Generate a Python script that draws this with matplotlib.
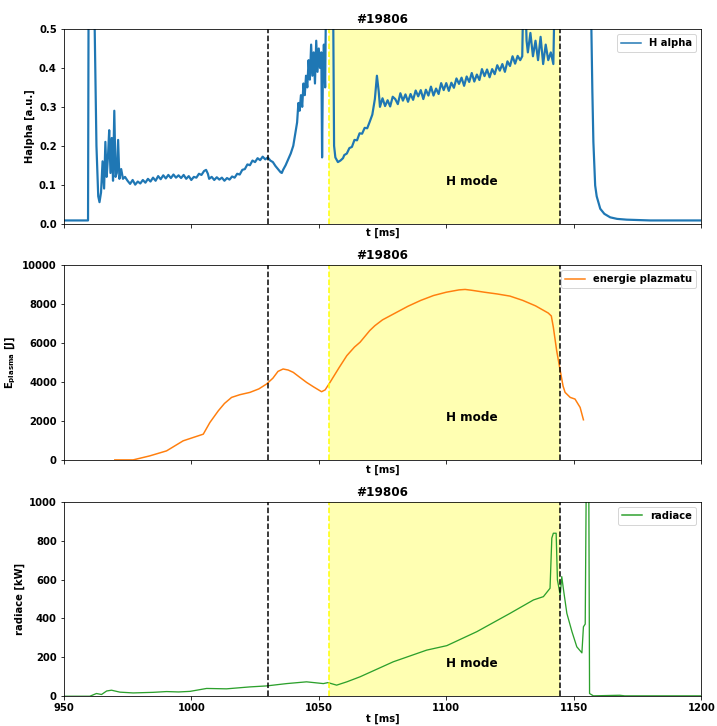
import matplotlib
matplotlib.use('Agg')
import matplotlib.pyplot as plt

SHOT = '#19806'
T_DASH = 1030
H_START = 1054
H_END = 1144.5

# H alpha [a.u.]
t_ha = [950, 959.5, 959.8, 960.2, 961.5, 962.0, 962.8, 963.5, 964.0, 964.6,
        965.2, 965.8, 966.3, 966.8, 967.3, 967.8, 968.3, 968.8, 969.3, 969.8,
        970.3, 970.8, 971.3, 971.8, 972.5, 973.2, 974,
        975, 976, 977, 978, 979, 980, 981, 982, 983, 984, 985, 986, 987, 988,
        989, 990, 991, 992, 993, 994, 995, 996, 997, 998, 999, 1000, 1001,
        1002, 1003, 1004, 1005, 1005.8, 1006.5, 1007, 1008, 1009, 1010, 1011,
        1012, 1013, 1014, 1015, 1016, 1017, 1018, 1019, 1020, 1021, 1022, 1023,
        1024, 1025, 1026, 1027, 1028, 1029, 1030, 1031, 1032, 1033, 1034, 1035,
        1035.5, 1036, 1037, 1038, 1039, 1040, 1041, 1041.5, 1042, 1042.5, 1043,
        1043.5, 1044, 1044.5, 1045, 1045.5, 1046, 1046.5, 1047, 1047.5, 1048,
        1048.5, 1049, 1049.5, 1050, 1050.5, 1051, 1051.3, 1051.6, 1052, 1052.5,
        1053, 1055.5, 1056, 1056.5, 1057.5, 1058.5, 1059.5,
        1060, 1061, 1062, 1063, 1064, 1065, 1066, 1067, 1068, 1069, 1070, 1071,
        1072, 1072.8, 1073.5, 1074,
        1075, 1076, 1077, 1078, 1079, 1080, 1081, 1082, 1083, 1084, 1085, 1086,
        1087, 1088, 1089, 1090, 1091, 1092, 1093, 1094, 1095, 1096, 1097, 1098,
        1099, 1100, 1101, 1102, 1103, 1104, 1105, 1106, 1107, 1108, 1109, 1110,
        1111, 1112, 1113, 1114, 1115, 1116, 1117, 1118, 1119, 1120, 1121, 1122,
        1123, 1124, 1125, 1126, 1127, 1128, 1129, 1129.8, 1130.5, 1131.5,
        1132, 1133, 1134, 1135, 1136, 1137, 1138, 1139, 1140, 1141, 1142,
        1142.8, 1156.8, 1157.3, 1157.7, 1158.4, 1159, 1160.4, 1162, 1164.3,
        1167, 1170.8, 1180, 1200]
ha = [0.008, 0.008, 0.8, 0.9, 0.9, 0.55, 0.2, 0.07, 0.055, 0.08,
      0.16, 0.09, 0.21, 0.12, 0.17, 0.24, 0.13, 0.22, 0.11, 0.29,
      0.12, 0.13, 0.215, 0.115, 0.14, 0.115, 0.12,
      0.11, 0.102, 0.112, 0.100, 0.108, 0.103, 0.112, 0.105, 0.115, 0.108,
      0.118, 0.11, 0.122, 0.114, 0.124, 0.116, 0.125, 0.117, 0.126, 0.118,
      0.124, 0.117, 0.125, 0.115, 0.122, 0.112, 0.12, 0.118, 0.128, 0.125,
      0.135, 0.138, 0.128, 0.115, 0.12, 0.112, 0.119, 0.113, 0.118, 0.11,
      0.117, 0.113, 0.121, 0.118, 0.128, 0.126, 0.138, 0.14, 0.152, 0.15,
      0.162, 0.158, 0.168, 0.163, 0.172, 0.165, 0.17, 0.162, 0.158, 0.148,
      0.14, 0.132, 0.13, 0.138, 0.15, 0.165, 0.18, 0.2, 0.24, 0.26, 0.31,
      0.29, 0.33, 0.3, 0.36, 0.33, 0.38, 0.35, 0.42, 0.37, 0.46, 0.38, 0.44,
      0.36, 0.47, 0.39, 0.45, 0.4, 0.44, 0.17, 0.38, 0.46, 0.35,
      0.7, 0.7, 0.2, 0.17, 0.158, 0.162, 0.168,
      0.176, 0.18, 0.194, 0.197, 0.215, 0.214, 0.232, 0.231, 0.246, 0.245, 0.262,
      0.28, 0.32, 0.38, 0.34, 0.3,
      0.322, 0.302, 0.317, 0.301, 0.326, 0.320, 0.307, 0.335, 0.316, 0.332,
      0.313, 0.333, 0.318, 0.342, 0.327, 0.343, 0.320, 0.344, 0.329, 0.352,
      0.329, 0.347, 0.333, 0.361, 0.343, 0.361, 0.341, 0.362, 0.349, 0.373,
      0.359, 0.375, 0.354, 0.378, 0.364, 0.387, 0.365, 0.383, 0.369, 0.397,
      0.379, 0.396, 0.376, 0.397, 0.384, 0.407, 0.393, 0.410, 0.390, 0.417,
      0.405, 0.430, 0.411, 0.431, 0.420, 0.43, 0.7, 0.47,
      0.44, 0.49, 0.43, 0.47, 0.42, 0.48, 0.41, 0.46, 0.42, 0.44, 0.41,
      0.7, 0.55, 0.34, 0.21, 0.098, 0.07, 0.038, 0.025, 0.016,
      0.012, 0.01, 0.008, 0.008]

# stored plasma energy [J]
t_en = [970, 977.2, 983.7, 990.3, 996.8, 1000.7, 1004.7, 1007.3, 1010.6,
        1013, 1015.8, 1019, 1023, 1026.5, 1029.5, 1032, 1034, 1036, 1038,
        1040, 1042.5, 1045.2, 1048, 1051.1, 1052.5, 1054.4, 1058, 1061, 1064,
        1066.2, 1070, 1072, 1075, 1080, 1085, 1090, 1095, 1100, 1105, 1107.4,
        1110, 1115, 1120, 1125, 1130, 1135, 1140, 1141.2, 1142, 1143.3,
        1144.7, 1145.8, 1146.6, 1148.6, 1150.5, 1152.5, 1153.8]
energy = [0, 0, 206, 464, 980, 1150, 1323, 1924, 2525,
          2900, 3213, 3350, 3471, 3650, 3900, 4200, 4550, 4673, 4620,
          4500, 4250, 3985, 3750, 3505, 3600, 3985, 4750, 5360, 5800,
          6050, 6650, 6900, 7200, 7550, 7900, 8200, 8450, 8620, 8740, 8763,
          8720, 8620, 8530, 8420, 8200, 7920, 7550, 7400, 6820, 5619,
          4588, 3800, 3471, 3213, 3127, 2698, 2062]

# radiated power [kW]
t_rad = [950, 960.2, 962.8, 964.8, 966.8, 968.7, 972, 977.2, 979.8, 985,
         990.3, 995, 999.5, 1006, 1013.8, 1023, 1029.5, 1037.4, 1045.2,
         1051.8, 1053.6, 1057, 1061, 1066.2, 1079.2, 1092.3, 1100.2, 1112,
         1125, 1134.2, 1138.1, 1140.7, 1141.4, 1142, 1143.1, 1143.6, 1144.7,
         1145.3, 1146, 1147.3, 1149.3, 1151.2, 1153.2, 1153.8, 1154.5, 1154.9,
         1155.9, 1156.2, 1157.7, 1168, 1170, 1200]
rad = [0, 0, 14, 9, 27, 31, 21, 17, 18, 20,
       24, 22, 25, 40, 38, 48, 53, 65, 74,
       65, 70, 57, 74, 100, 177, 237, 260, 332,
       426, 495, 512, 555, 813, 838, 838, 598, 520,
       615, 546, 426, 332, 254, 223, 357, 371, 1100,
       1100, 14, 2, 5, 2, 2]

plt.rcParams['font.weight'] = 'bold'
plt.rcParams['axes.labelweight'] = 'bold'
plt.rcParams['axes.titleweight'] = 'bold'
plt.rcParams['font.size'] = 10

fig, axes = plt.subplots(3, 1, figsize=(717 / 72, 726 / 72), dpi=72)
fig.subplots_adjust(left=0.089, right=0.978, top=0.960, bottom=0.041, hspace=0.215)

series = [
    (t_ha, ha, 'C0', 'H alpha', 'Halpha [a.u.]', (0, 0.5), 0.1, 2.2),
    (t_en, energy, 'C1', 'energie plazmatu', 'E$_{\\mathbf{plasma}}$ [J]', (0, 10000), 2000, 1.5),
    (t_rad, rad, 'C2', 'radiace', 'radiace [kW]', (0, 1000), 150, 1.3),
]

for i, (ax, (t, y, col, lab, ylab, ylim, ytxt, lw)) in enumerate(zip(axes, series)):
    ax.axvspan(H_START, H_END, color='yellow', alpha=0.3, lw=0)
    line, = ax.plot(t, y, color=col, lw=lw, label=lab)
    ax.axvline(T_DASH, color='k', ls='--', lw=1.5)
    ax.axvline(H_START, color='yellow', ls='--', lw=1.5)
    ax.axvline(H_END, color='k', ls='--', lw=1.5)
    ax.text(1100, ytxt, 'H mode', fontsize=12, fontweight='bold')
    ax.set_xlim(950, 1200)
    ax.set_ylim(*ylim)
    ax.set_title(SHOT)
    ax.set_xlabel('t [ms]', labelpad=1)
    ax.set_ylabel(ylab)
    leg = ax.legend(loc='upper right')
    leg.get_lines()[0].set_linewidth(1.5)
    if i < 2:
        ax.tick_params(labelbottom=False)

fig.savefig('out.png', dpi=72)
